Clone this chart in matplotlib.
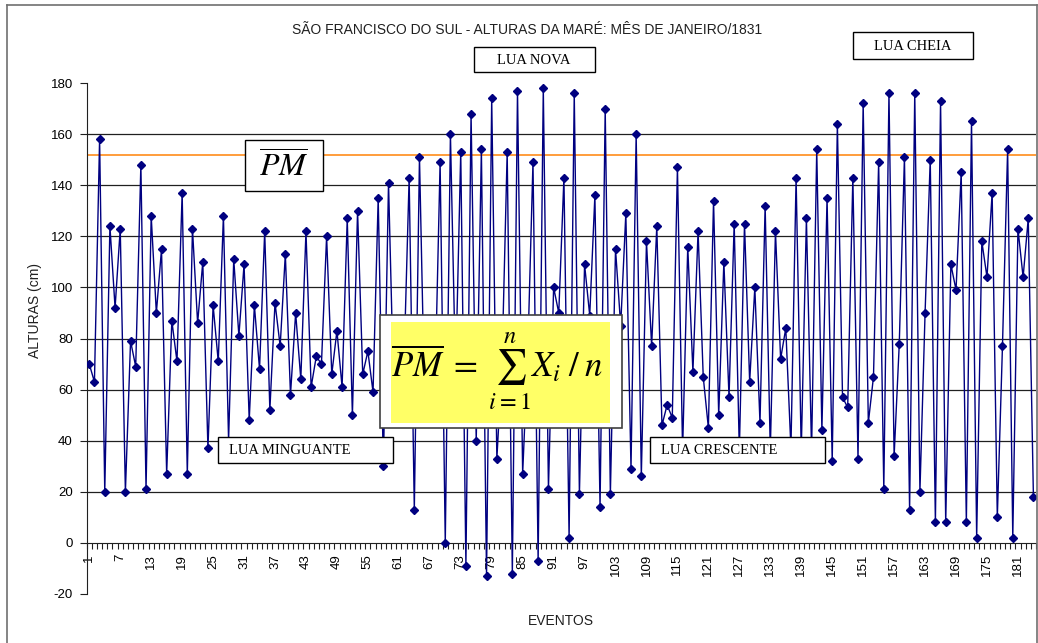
import numpy as np
import matplotlib
matplotlib.use("Agg")
import matplotlib.pyplot as plt
from matplotlib.patches import Rectangle
from matplotlib.lines import Line2D

# alturas da maré (cm), eventos 1..184
alturas = [
    70, 63, 158, 20, 124, 92, 123, 20, 79, 69,
    148, 21, 128, 90, 115, 27, 87, 71, 137, 27,
    123, 86, 110, 37, 93, 71, 128, 40, 111, 81,
    109, 48, 93, 68, 122, 52, 94, 77, 113, 58,
    90, 64, 122, 61, 73, 70, 120, 66, 83, 61,
    127, 50, 130, 66, 75, 59, 135, 30, 141, 60,
    85, 70, 143, 13, 151, 55, 80, 60, 149, 0,
    160, 65, 153, -9, 168, 40, 154, -13, 174, 33,
    70, 153, -12, 177, 27, 75, 149, -7, 178, 21,
    100, 90, 143, 2, 176, 19, 109, 89, 136, 14,
    170, 19, 115, 85, 129, 29, 160, 26, 118, 77,
    124, 46, 54, 49, 147, 36, 116, 67, 122, 65,
    45, 134, 50, 110, 57, 125, 36, 125, 63, 100,
    47, 132, 36, 122, 72, 84, 37, 143, 36, 127,
    36, 154, 44, 135, 32, 164, 57, 53, 143, 33,
    172, 47, 65, 149, 21, 176, 34, 78, 151, 13,
    176, 20, 90, 150, 8, 173, 8, 109, 99, 145,
    8, 165, 2, 118, 104, 137, 10, 77, 154, 2,
    123, 104, 127, 18,
]
eventos = np.arange(1, len(alturas) + 1)
media_pm = 152
y_ticks = list(range(-20, 181, 20))
grid_levels = list(range(20, 161, 20))
x_labels = list(range(1, len(alturas) + 1, 6))

title = "SÃO FRANCISCO DO SUL - ALTURAS DA MARÉ: MÊS DE JANEIRO/1831"

W, H = 1038, 643
fig = plt.figure(figsize=(W / 100, H / 100), dpi=100)
fig.patch.set_facecolor("white")


def fx(px):
    return px / W


def fy(py):
    return 1 - py / H


ax = fig.add_axes([fx(86.7), fy(594), fx(1036 - 86.7), (594 - 83) / H])
ax.set_facecolor("none")

for v in grid_levels:
    ax.axhline(v, color="#202020", lw=0.9, zorder=1)
ax.axhline(media_pm, color="#FF8C1A", lw=1.2, zorder=2)

ax.plot(eventos, alturas, color="#000080", lw=1.0, marker="D", ms=3.8,
        mfc="#000080", mec="#000080", zorder=3)

ax.set_xlim(0.5, len(alturas) + 0.5)
ax.set_ylim(-20, 180)

for s in ["top", "right"]:
    ax.spines[s].set_visible(False)
ax.spines["bottom"].set_position(("data", 0))
ax.spines["bottom"].set_color("#202020")
ax.spines["left"].set_color("#202020")

ax.set_yticks(y_ticks)
ax.set_yticklabels([str(v) for v in y_ticks], fontsize=9.5,
                   family="Liberation Sans")
ax.tick_params(axis="y", direction="out", length=5, pad=5, color="#202020")

ax.set_xticks(x_labels)
ax.set_xticklabels([str(v) for v in x_labels], rotation=90, fontsize=9.5,
                   family="Liberation Sans", va="top", ha="center")
ax.tick_params(axis="x", which="major", length=0, pad=8)
ax.set_xticks(np.arange(0.5, len(alturas) + 1, 1), minor=True)
ax.tick_params(axis="x", which="minor", direction="out", length=4,
               width=0.8, color="#202020")

# moldura do gráfico
frame_kw = dict(color="#707070", lw=1.2, transform=fig.transFigure)
fig.add_artist(Line2D([fx(7), fx(7)], [fy(5), fy(650)], **frame_kw))
fig.add_artist(Line2D([fx(7), fx(1037)], [fy(5), fy(5)], **frame_kw))
fig.add_artist(Line2D([fx(1037), fx(1037)], [fy(5), fy(650)], **frame_kw))

fig.text(fx(527), fy(30), title, ha="center", va="center", fontsize=10,
         family="Liberation Sans", color="#202020")
fig.text(fx(35), fy(310), "ALTURAS (cm)", rotation=90, ha="center",
         va="center", fontsize=10, family="Liberation Sans", color="#202020")
fig.text(fx(561), fy(621), "EVENTOS", ha="center", va="center",
         fontsize=10, family="Liberation Sans", color="#202020")


def box(x0, y0, x1, y1, fc="white", ec="black", lw=1.0, z=5):
    fig.add_artist(Rectangle((fx(x0), fy(y1)), fx(x1 - x0), (y1 - y0) / H,
                             transform=fig.transFigure, fc=fc, ec=ec,
                             lw=lw, zorder=z))


serif = dict(family="Liberation Serif", fontsize=10.5, va="center", zorder=6)

box(474, 47, 595, 72)
fig.text(fx(534), fy(60), "LUA NOVA", ha="center", **serif)
box(853, 32, 973, 59)
fig.text(fx(913), fy(46), "LUA CHEIA", ha="center", **serif)
box(218, 437, 393, 463)
fig.text(fx(229), fy(451), "LUA MINGUANTE", ha="left", **serif)
box(650, 437, 825, 463)
fig.text(fx(661), fy(451), "LUA CRESCENTE", ha="left", **serif)

plt.rcParams["mathtext.fontset"] = "stix"
box(245, 140, 323, 191)
fig.text(fx(284), fy(167), r"$\overline{PM}$", ha="center", va="center",
         fontsize=23, zorder=6)

box(380, 315, 622, 428, ec="#404040", lw=1.2)
box(391, 322, 610, 423, fc="#FFFF66", ec="none", z=5.5)
fig.text(fx(497), fy(371),
         r"$\overline{PM}\;=\;\sum_{i=1}^{n} X_i\;/\;n$",
         ha="center", va="center", fontsize=25, zorder=6)

fig.savefig("out.png", dpi=100)
